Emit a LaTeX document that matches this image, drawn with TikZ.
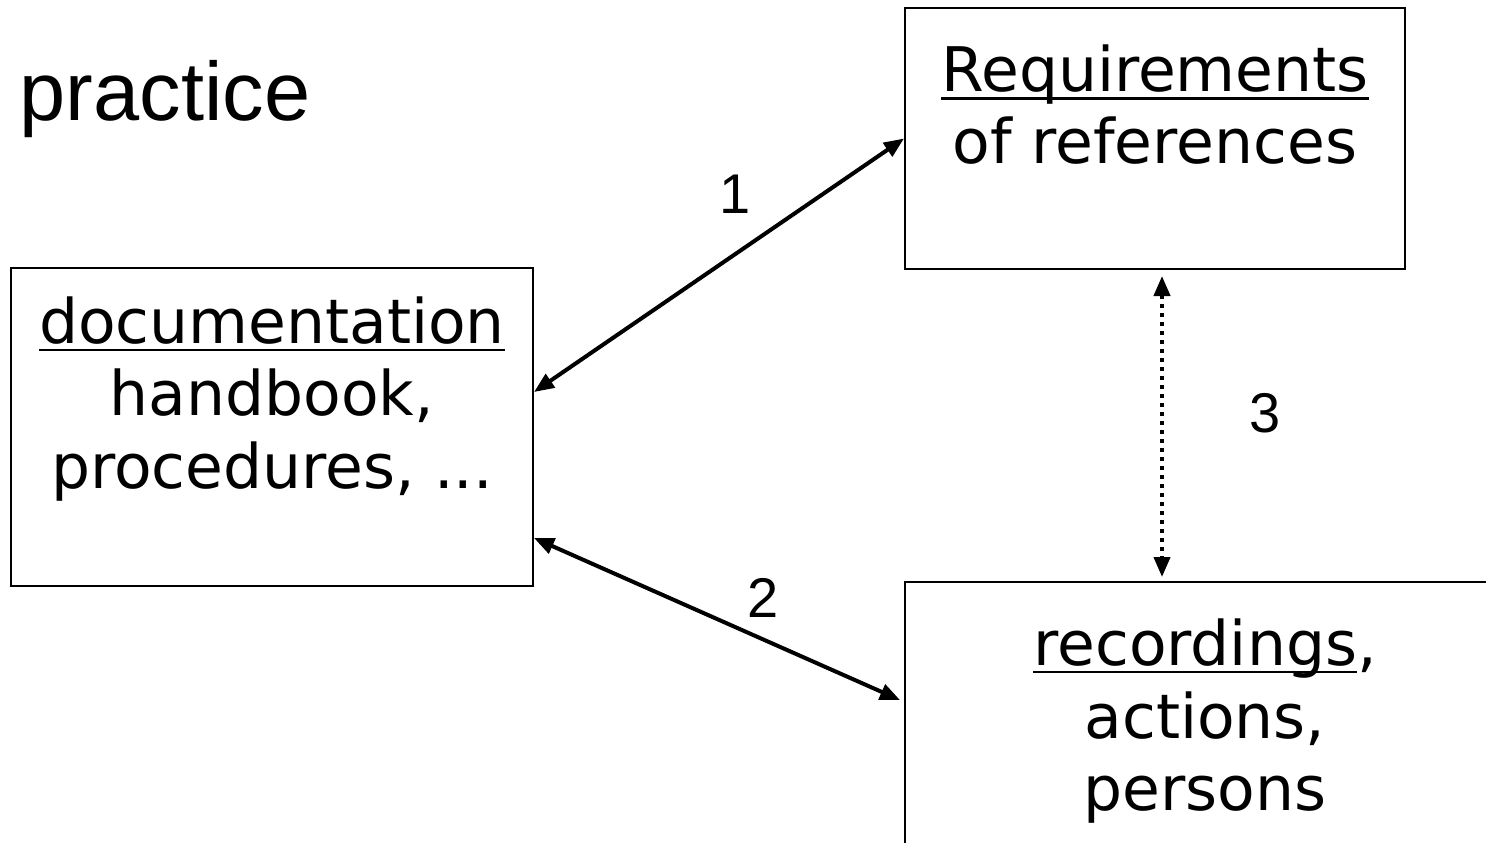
\documentclass[tikz,border=0pt]{standalone}
\usepackage{fontspec}
\setmainfont{DejaVu Sans}
\newfontfamily\arialf{Liberation Sans}
\usetikzlibrary{arrows.meta,calc}
\newcommand\myul[1]{\leavevmode\setbox0\hbox{#1}\rlap{\rule[-8pt]{\wd0}{2.5pt}}\box0}
\tikzset{
  boxstyle/.style={draw=black,line width=2pt,inner sep=0pt},
  linetext/.style={anchor=base,inner sep=0pt,font=\fontsize{61.5}{72}\selectfont},
  numtext/.style={anchor=base,inner sep=0pt,font=\arialf\fontsize{56}{66}\selectfont},
  conn/.style={line width=4pt,{Triangle[length=20pt,width=16pt]}-{Triangle[length=20pt,width=16pt]}},
}
\begin{document}
\begin{tikzpicture}[x=1pt,y=-1pt]
\useasboundingbox (0,0) rectangle (1486,843);
\clip (0,0) rectangle (1486,843);
\fill[white] (0,0) rectangle (1486,843);
% boxes
\node[boxstyle,minimum width=500pt,minimum height=261pt] (req) at (1155,138.5) {};
\node[boxstyle,minimum width=522pt,minimum height=318pt] (doc) at (272,427) {};
\node[boxstyle,minimum width=595pt,minimum height=278pt] (rec) at (1202.5,721) {};
% title
\node[anchor=base,inner sep=0pt,font=\arialf\fontsize{83}{96}\selectfont] (title) at (165,120) {practice};
% texts
\node[linetext] (req1) at (1155,92) {\myul{Requirements}};
\node[linetext] (req2) at (1155,163) {of references};
\node[linetext] (doc1) at (272,343) {\myul{documentation}};
\node[linetext] (doc2) at (272,415) {handbook,};
\node[linetext] (doc3) at (272,488) {procedures, ...};
\node[linetext] (rec1) at (1205,665) {\myul{recordings},};
\node[linetext] (rec2) at (1205,738) {actions,};
\node[linetext] (rec3) at (1205,810) {persons};
% numbers
\node[numtext] (n1) at (735,213) {1};
\node[numtext] (n2) at (763,617) {2};
\node[numtext] (n3) at (1265,432) {3};
% connectors
\draw[conn] ([yshift=35pt]doc.east) -- (req.west);
\draw[conn] ([yshift=-111pt]doc.east) -- ([yshift=21pt,xshift=-4pt]rec.west);
\draw[conn,dash pattern=on 4pt off 5pt,shorten <=6pt,shorten >=4pt] ([xshift=7pt]req.south) -- ([xshift=7pt]req.south |- rec.north);
\end{tikzpicture}
\end{document}
